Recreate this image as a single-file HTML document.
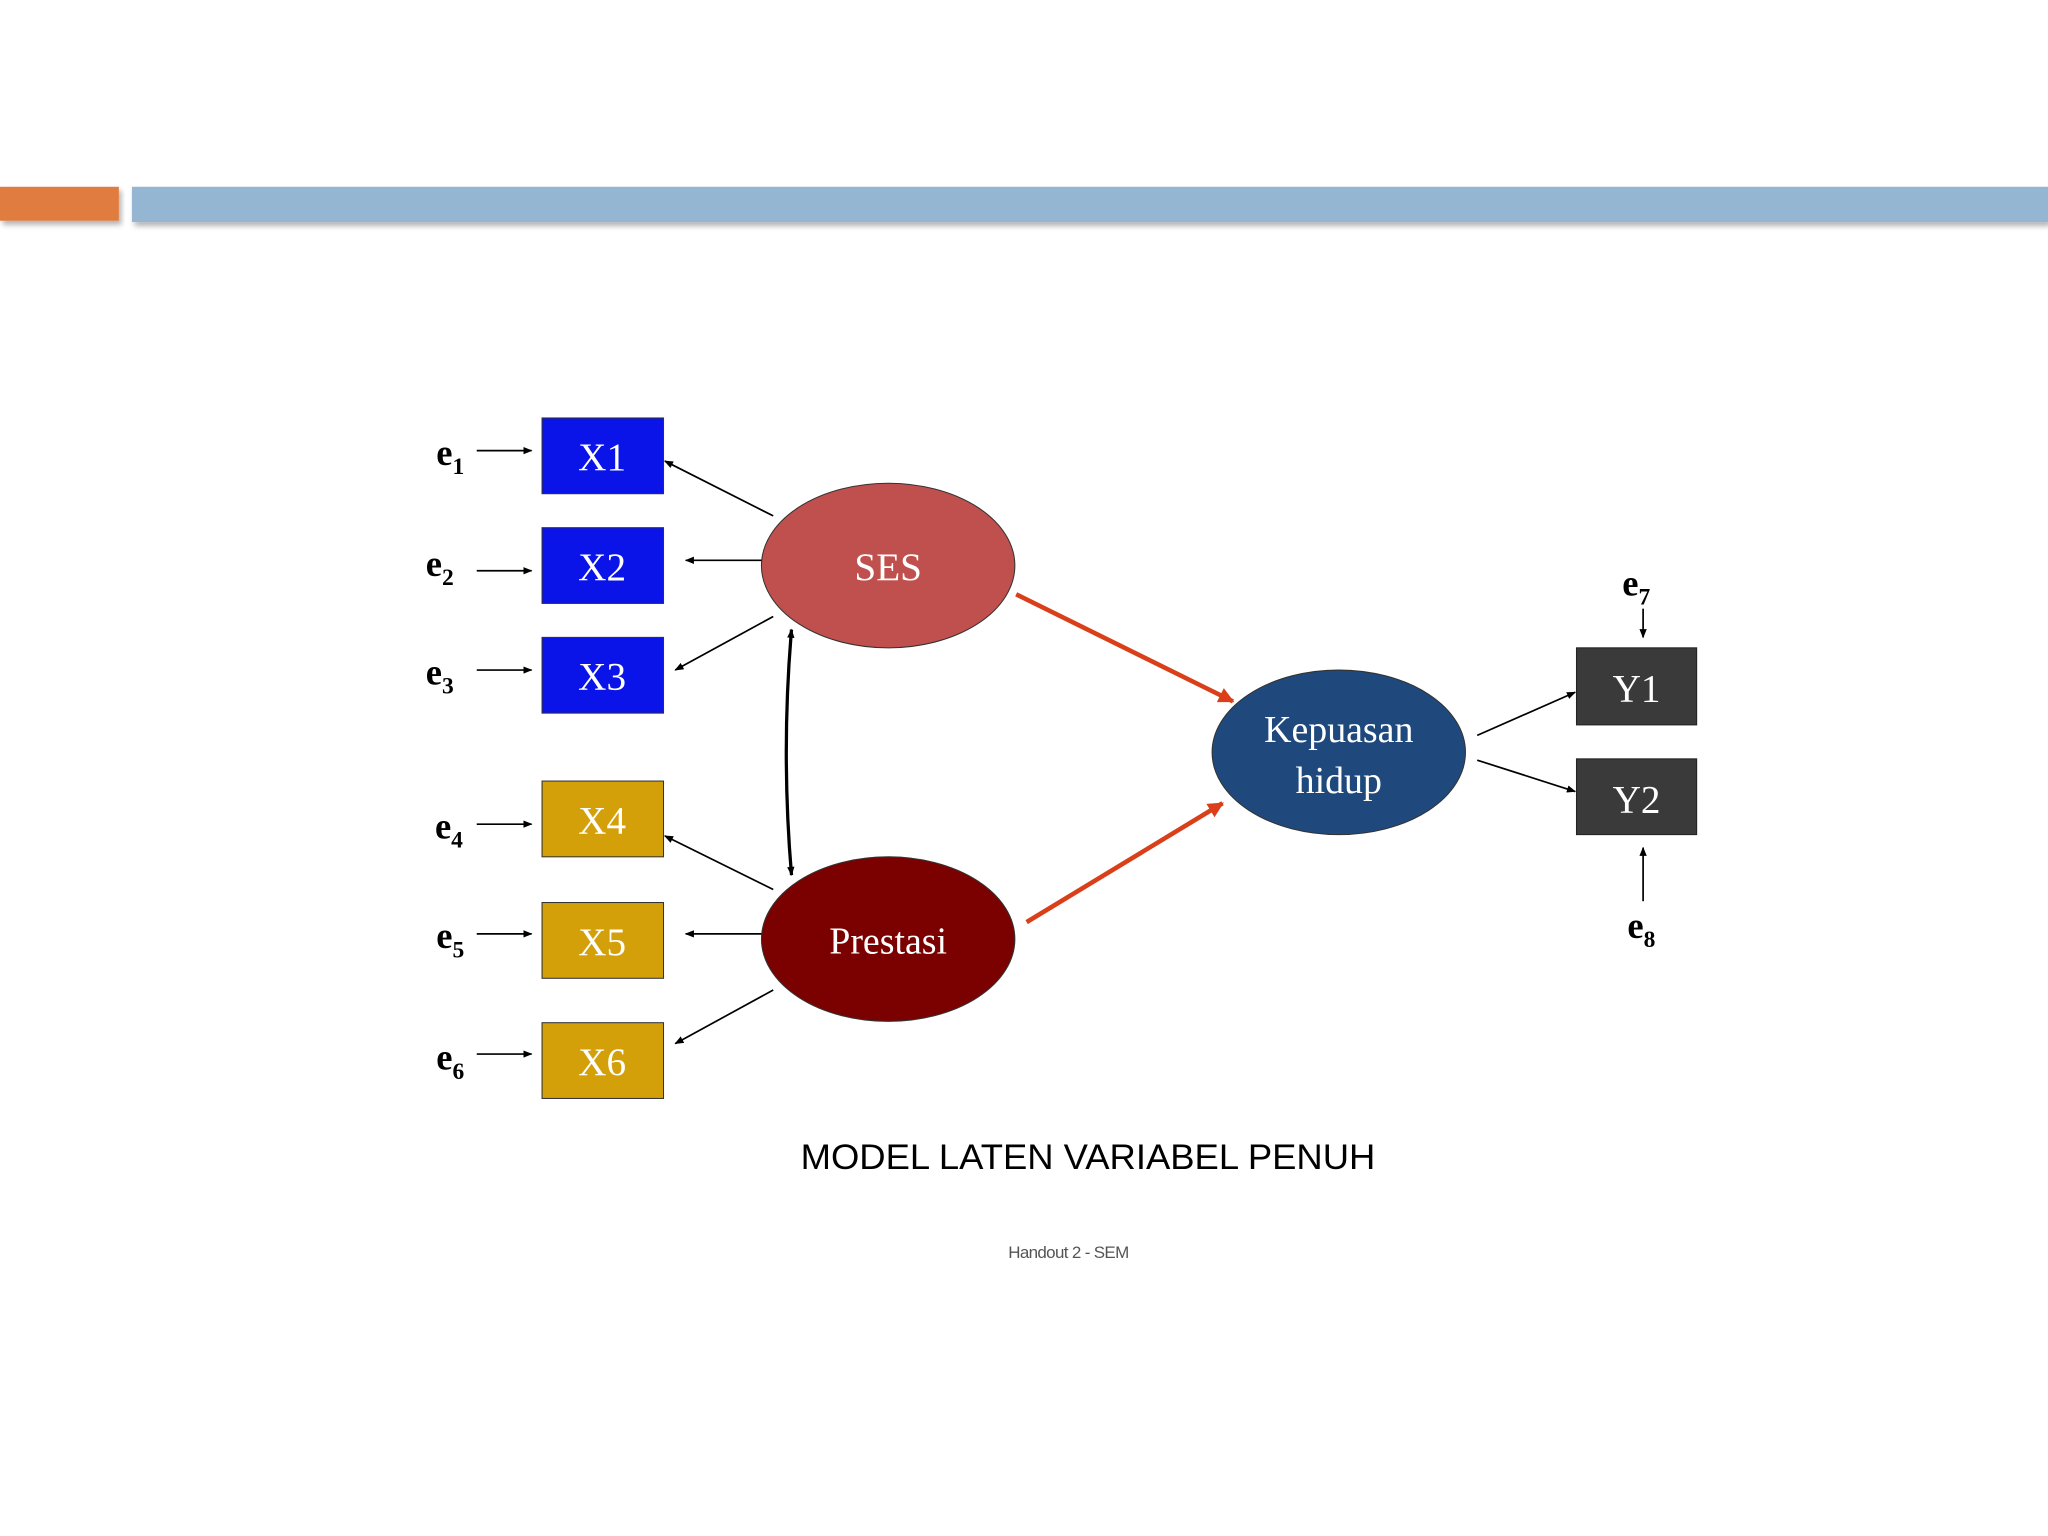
<!DOCTYPE html>
<html><head><meta charset="utf-8"><style>
html,body{margin:0;padding:0;background:#fff;}
svg{display:block;}
</style></head><body>
<svg width="2048" height="1536" viewBox="0 0 1568 1176" xmlns="http://www.w3.org/2000/svg">
<defs>
<marker id="a" viewBox="0 0 10 10" refX="9" refY="5" markerWidth="7" markerHeight="7" orient="auto-start-reverse" markerUnits="userSpaceOnUse"><path d="M0,1 L10,5 L0,9 Z" fill="#000"/></marker>
<marker id="r" viewBox="0 0 10 10" refX="9" refY="5" markerWidth="14" markerHeight="12" orient="auto" markerUnits="userSpaceOnUse"><path d="M0,0 L10,5 L0,10 Z" fill="#d9401a"/></marker>
<filter id="sh" x="-5%" y="-50%" width="110%" height="200%"><feDropShadow dx="2" dy="3" stdDeviation="2" flood-color="#000" flood-opacity="0.3"/></filter>
</defs>
<rect x="0" y="143" width="91" height="26" fill="#e07b3f" filter="url(#sh)"/>
<rect x="101" y="143" width="1467" height="27" fill="#94b6d2" filter="url(#sh)"/>

<g font-family="Liberation Serif, serif" font-size="30" fill="#fff" text-anchor="middle">
<rect x="415" y="320" width="93" height="58" fill="#0a14e8" stroke="#333" stroke-width="0.8"/><text x="461" y="360">X1</text>
<rect x="415" y="404" width="93" height="58" fill="#0a14e8" stroke="#333" stroke-width="0.8"/><text x="461" y="444">X2</text>
<rect x="415" y="488" width="93" height="58" fill="#0a14e8" stroke="#333" stroke-width="0.8"/><text x="461" y="528">X3</text>
<rect x="415" y="598" width="93" height="58" fill="#d4a00a" stroke="#333" stroke-width="0.8"/><text x="461" y="638">X4</text>
<rect x="415" y="691" width="93" height="58" fill="#d4a00a" stroke="#333" stroke-width="0.8"/><text x="461" y="731">X5</text>
<rect x="415" y="783" width="93" height="58" fill="#d4a00a" stroke="#333" stroke-width="0.8"/><text x="461" y="823">X6</text>
<rect x="1207" y="496" width="92" height="59" fill="#3a3a3a" stroke="#222" stroke-width="0.8"/><text x="1253" y="537">Y1</text>
<rect x="1207" y="581" width="92" height="58" fill="#3a3a3a" stroke="#222" stroke-width="0.8"/><text x="1253" y="622">Y2</text>
<ellipse cx="680" cy="433" rx="97" ry="63" fill="#c0504d" stroke="#333" stroke-width="0.8"/><text x="680" y="444">SES</text>
<ellipse cx="680" cy="719" rx="97" ry="63" fill="#7b0000" stroke="#333" stroke-width="0.8"/><text x="680" y="730" font-size="29">Prestasi</text>
<ellipse cx="1025" cy="576" rx="97" ry="63" fill="#1f497d" stroke="#333" stroke-width="0.8"/>
<text x="1025" y="568" font-size="29">Kepuasan</text><text x="1025" y="607" font-size="29">hidup</text>
</g>

<g font-family="Liberation Serif, serif" font-size="28" fill="#000" font-weight="bold">
<text x="334" y="356">e<tspan font-size="18" dy="7">1</tspan></text>
<text x="326" y="441">e<tspan font-size="18" dy="7">2</tspan></text>
<text x="326" y="524">e<tspan font-size="18" dy="7">3</tspan></text>
<text x="333" y="642">e<tspan font-size="18" dy="7">4</tspan></text>
<text x="334" y="726">e<tspan font-size="18" dy="7">5</tspan></text>
<text x="334" y="819">e<tspan font-size="18" dy="7">6</tspan></text>
<text x="1242" y="456">e<tspan font-size="18" dy="7">7</tspan></text>
<text x="1246" y="718">e<tspan font-size="18" dy="7">8</tspan></text>
</g>

<g stroke="#000" stroke-width="1.3" fill="none" marker-end="url(#a)">
<line x1="365" y1="345" x2="407" y2="345"/>
<line x1="365" y1="437" x2="407" y2="437"/>
<line x1="365" y1="513" x2="407" y2="513"/>
<line x1="365" y1="631" x2="407" y2="631"/>
<line x1="365" y1="715" x2="407" y2="715"/>
<line x1="365" y1="807" x2="407" y2="807"/>
<line x1="592" y1="395" x2="509" y2="353"/>
<line x1="583" y1="429" x2="525" y2="429"/>
<line x1="592" y1="472" x2="517" y2="513"/>
<line x1="592" y1="681" x2="509" y2="640"/>
<line x1="583" y1="715" x2="525" y2="715"/>
<line x1="592" y1="758" x2="517" y2="799"/>
<line x1="1131" y1="563" x2="1206" y2="530"/>
<line x1="1131" y1="582" x2="1206" y2="606"/>
<line x1="1258" y1="466" x2="1258" y2="488"/>
<line x1="1258" y1="690" x2="1258" y2="649"/>
</g>
<path d="M606,482 Q598,576 606,670" stroke="#000" stroke-width="2.5" fill="none" marker-start="url(#a)" marker-end="url(#a)"/>
<g stroke="#d9401a" stroke-width="3.5" fill="none" marker-end="url(#r)">
<line x1="778" y1="455" x2="944" y2="537"/>
<line x1="786" y1="706" x2="936" y2="615"/>
</g>

<text x="833" y="895" text-anchor="middle" font-family="Liberation Sans, sans-serif" font-size="27" fill="#000" textLength="440" lengthAdjust="spacingAndGlyphs">MODEL LATEN VARIABEL PENUH</text>
<text x="818" y="963" text-anchor="middle" font-family="Liberation Sans, sans-serif" font-size="13" fill="#555" letter-spacing="-0.5">Handout 2 - SEM</text>
</svg>
</body></html>
